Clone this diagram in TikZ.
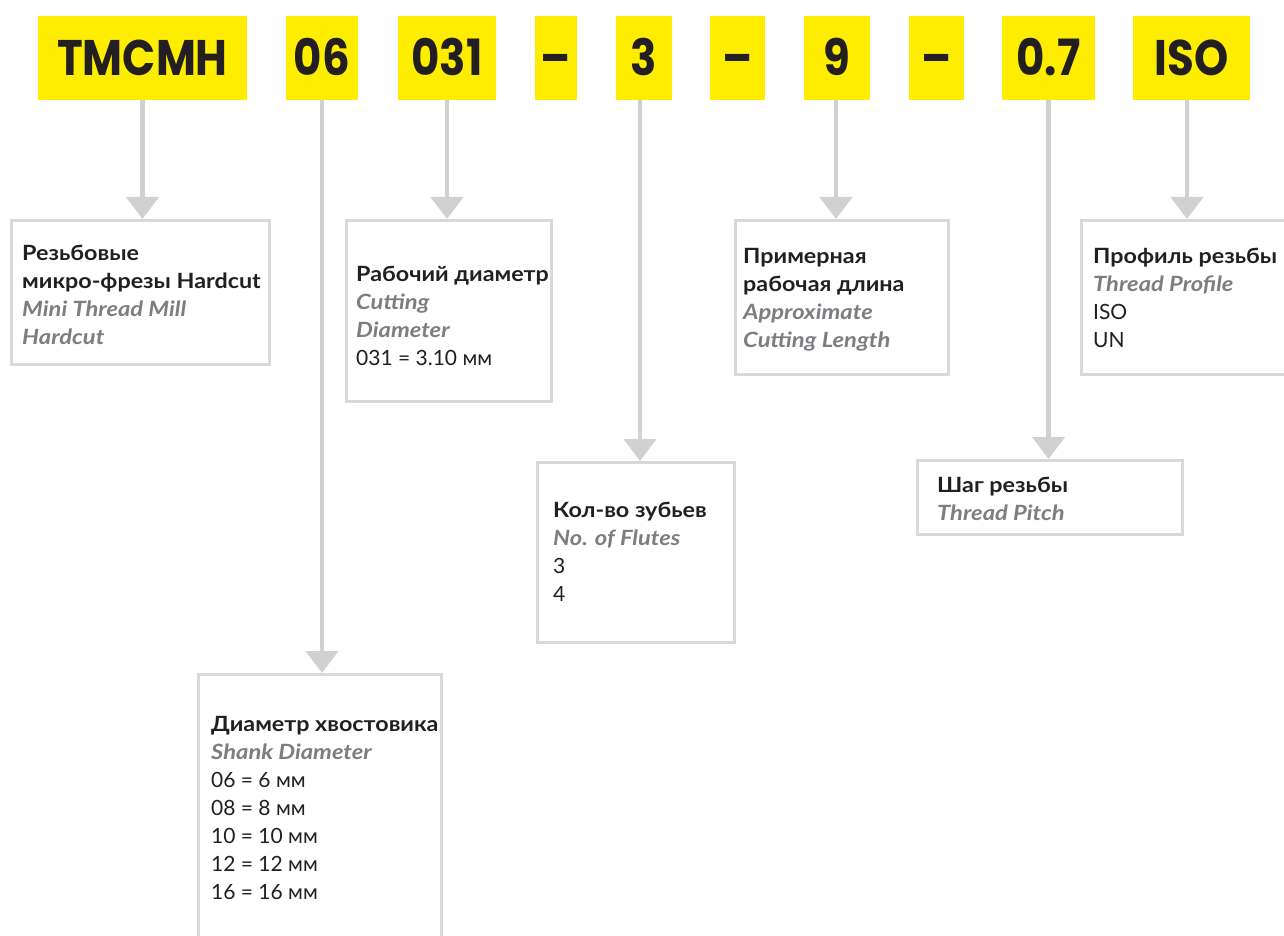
\documentclass[tikz,border=0pt]{standalone}
\usepackage{fontspec}
\setmainfont{Lato}[BoldFeatures={FakeStretch=1.11},BoldItalicFeatures={FakeStretch=1.13}]
\newfontfamily\labfont{Poppins}[BoldFeatures={FakeStretch=0.87}]
\usetikzlibrary{arrows.meta}
\definecolor{ylw}{HTML}{FFED00}
\definecolor{ink}{HTML}{231F20}
\definecolor{engray}{HTML}{7D7D82}
\definecolor{connc}{HTML}{D1D1D3}
\definecolor{framec}{HTML}{D9D9DA}
\newcommand{\ruT}[1]{{\bfseries\color{ink}#1}}
\newcommand{\enT}[1]{{\bfseries\itshape\color{engray}#1}}
\newcommand{\vaT}[1]{{\color{ink}#1}}
\newcommand{\linesT}[1]{\begin{tabular}[t]{@{}l@{}}#1\end{tabular}}
\begin{document}
\begin{tikzpicture}[x=1pt,y=-1pt,
 lab/.style={fill=ylw, inner sep=0pt, minimum height=84pt, text height=35pt, text depth=0pt,
   font=\labfont\bfseries\fontsize{50}{50}\selectfont, text=ink},
 infobox/.style={draw=framec, line width=3pt, inner sep=0pt, anchor=north west},
 txt/.style={anchor=base west, inner sep=0pt, font=\fontsize{21}{28}\selectfont},
 connector/.style={draw=connc, line width=4.5pt, -{Triangle[width=32pt,length=22pt]}}]
\fill[white] (0,0) rectangle (1284,936);
\useasboundingbox (0,0) rectangle (1284,936);

% yellow code labels
\node[lab, minimum width=209pt] (tmcmh) at (142.5,58) {TMCMH};
\node[lab, minimum width=72pt]  (l06)   at (322,58) {06};
\node[lab, minimum width=98pt]  (l031)  at (447,58) {031};
\node[lab, minimum width=42pt]  (d1)    at (556,58) {–};
\node[lab, minimum width=56pt]  (l3)    at (644,58) {3};
\node[lab, minimum width=55pt]  (d2)    at (737.5,58) {–};
\node[lab, minimum width=66pt]  (l9)    at (837,58) {9};
\node[lab, minimum width=55pt]  (d3)    at (936.5,58) {–};
\node[lab, minimum width=93pt]  (l07)   at (1048.5,58) {0.7};
\node[lab, minimum width=117pt] (iso)   at (1191.5,58) {ISO};

% boxes
\node[infobox, minimum width=258pt, minimum height=144pt] (b1) at (10,219) {};
\node[infobox, minimum width=205pt, minimum height=181pt] (b2) at (345,219) {};
\node[infobox, minimum width=213pt, minimum height=154pt] (b3) at (734,219) {};
\node[infobox, minimum width=220pt, minimum height=154pt] (b4) at (1080,219) {};
\node[infobox, minimum width=265pt, minimum height=74pt]  (b5) at (916,459) {};
\node[infobox, minimum width=197pt, minimum height=180pt] (b6) at (536,461) {};
\node[infobox, minimum width=243pt, minimum height=300pt] (b7) at (197,673) {};

% connectors
\draw[connector] (tmcmh.south) -- (tmcmh.south |- b1.north);
\draw[connector] (l06.south) -- (l06.south |- b7.north);
\draw[connector] (l031.south) -- (l031.south |- b2.north);
\draw[connector] ([xshift=-4pt]l3.south) -- ([xshift=-4pt]l3.south |- b6.north);
\draw[connector] ([xshift=-1pt]l9.south) -- ([xshift=-1pt]l9.south |- b3.north);
\draw[connector] (l07.south) -- (l07.south |- b5.north);
\draw[connector] ([xshift=-4.5pt]iso.south) -- ([xshift=-4.5pt]iso.south |- b4.north);

% texts
\node[txt] (t1) at (22,260) {\linesT{\ruT{Резьбовые}\\ \ruT{микро-фрезы Hardcut}\\ \enT{Mini Thread Mill}\\ \enT{Hardcut}}};
\node[txt] (t2) at (356,281) {\linesT{\ruT{Рабочий диаметр}\\ \enT{Cutting}\\ \enT{Diameter}\\ \vaT{031 = 3.10 мм}}};
\node[txt] (t3) at (743,263) {\linesT{\ruT{Примерная}\\ \ruT{рабочая длина}\\ \enT{Approximate}\\ \enT{Cutting Length}}};
\node[txt] (t4) at (1093,263) {\linesT{\ruT{Профиль резьбы}\\ \enT{Thread Profile}\\ \vaT{ISO}\\ \vaT{UN}}};
\node[txt] (t5) at (937,492) {\linesT{\ruT{Шаг резьбы}\\ \enT{Thread Pitch}}};
\node[txt] (t6) at (553,517) {\linesT{\ruT{Кол-во зубьев}\\ \enT{No. of Flutes}\\ \vaT{3}\\ \vaT{4}}};
\node[txt] (t7) at (211,731) {\linesT{\ruT{Диаметр хвостовика}\\ \enT{Shank Diameter}\\ \vaT{06 = 6 мм}\\ \vaT{08 = 8 мм}\\ \vaT{10 = 10 мм}\\ \vaT{12 = 12 мм}\\ \vaT{16 = 16 мм}}};
\end{tikzpicture}
\end{document}
